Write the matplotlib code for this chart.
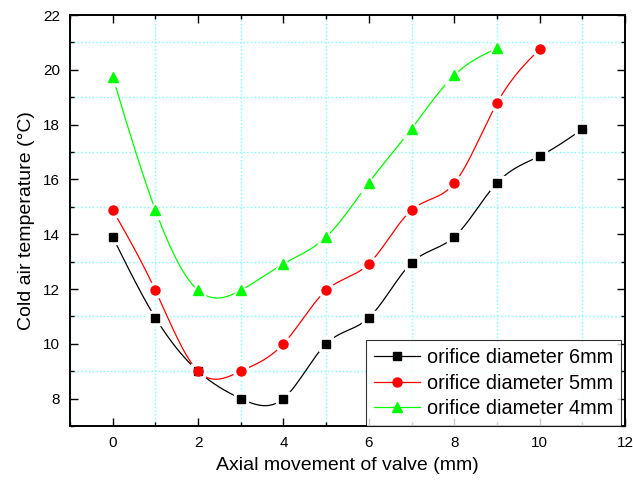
import numpy as np
import matplotlib
matplotlib.use("Agg")
import matplotlib.pyplot as plt
from matplotlib.ticker import MultipleLocator

plt.rcParams['font.family'] = ['Liberation Sans', 'DejaVu Sans']

x6 = [0, 1, 2, 3, 4, 5, 6, 7, 8, 9, 10, 11]
y6 = [13.9, 10.95, 9.0, 8.0, 8.0, 10.0, 10.95, 12.95, 13.9, 15.87, 16.85, 17.83]
x5 = [0, 1, 2, 3, 4, 5, 6, 7, 8, 9, 10]
y5 = [14.88, 11.95, 9.0, 9.0, 10.0, 11.95, 12.92, 14.88, 15.86, 18.78, 20.75]
x4 = [0, 1, 2, 3, 4, 5, 6, 7, 8, 9]
y4 = [19.75, 14.88, 11.95, 11.95, 12.92, 13.9, 15.88, 17.85, 19.8, 20.78]

labels = ['orifice diameter 6mm', 'orifice diameter 5mm', 'orifice diameter 4mm']
colors = ['black', 'red', '#00ff00']
markers = ['s', 'o', '^']
msizes = [5.5, 6.5, 7.5]


def natural_spline(x, y, n=400):
    x = np.asarray(x, float)
    y = np.asarray(y, float)
    k = len(x)
    h = np.diff(x)
    A = np.zeros((k, k))
    b = np.zeros(k)
    A[0, 0] = 1
    A[-1, -1] = 1
    for i in range(1, k - 1):
        A[i, i - 1] = h[i - 1]
        A[i, i] = 2 * (h[i - 1] + h[i])
        A[i, i + 1] = h[i]
        b[i] = 3 * ((y[i + 1] - y[i]) / h[i] - (y[i] - y[i - 1]) / h[i - 1])
    c = np.linalg.solve(A, b)
    xs = np.linspace(x[0], x[-1], n)
    idx = np.clip(np.searchsorted(x, xs) - 1, 0, k - 2)
    dx = xs - x[idx]
    bb = (y[idx + 1] - y[idx]) / h[idx] - h[idx] * (2 * c[idx] + c[idx + 1]) / 3
    d = (c[idx + 1] - c[idx]) / (3 * h[idx])
    ys = y[idx] + bb * dx + c[idx] * dx ** 2 + d * dx ** 3
    return xs, ys


fig = plt.figure(figsize=(6.33, 4.83), dpi=100)
ax = fig.add_axes([70 / 633, 57 / 483, 555 / 633, 411 / 483])

handles = []
for xv, yv, lab, col, mk, ms in zip([x6, x5, x4], [y6, y5, y4], labels, colors, markers, msizes):
    xs, ys = natural_spline(xv, yv)
    ax.plot(xs, ys, color=col, lw=0.9, zorder=2)
    ax.plot(xv, yv, linestyle='none', marker=mk, ms=ms + 5, color='white',
            markeredgecolor='white', zorder=3)
    ax.plot(xv, yv, linestyle='none', marker=mk, ms=ms, color=col,
            markeredgecolor=col, zorder=4)
    h, = ax.plot([], [], color=col, lw=0.9, marker=mk, ms=ms, markeredgecolor=col)
    handles.append(h)

ax.set_xlim(-1, 12)
ax.set_ylim(7, 22)
ax.xaxis.set_major_locator(MultipleLocator(2))
ax.xaxis.set_minor_locator(MultipleLocator(1))
ax.yaxis.set_major_locator(MultipleLocator(2))
ax.yaxis.set_minor_locator(MultipleLocator(1))
ax.grid(which='minor', color='#80ffff', linestyle=':', linewidth=1.0)
ax.grid(which='major', visible=False)
ax.set_axisbelow(True)

ax.tick_params(which='both', direction='in', top=True, right=True, labelsize=11, width=1.0)
ax.tick_params(which='major', length=6, pad=7)
ax.tick_params(which='minor', length=3)
for s in ax.spines.values():
    s.set_linewidth(1.4)

ax.set_xlabel('Axial movement of valve (mm)', fontsize=14, labelpad=5)
ax.set_ylabel('Cold air temperature (°C)', fontsize=14, labelpad=6)

leg = ax.legend(handles, labels, loc='lower right', bbox_to_anchor=(1 - 4 / 555, 0),
                borderaxespad=0, fontsize=14.3, frameon=True, fancybox=False,
                edgecolor='black', handlelength=2.3, handletextpad=0.35,
                labelspacing=0.32, borderpad=0.4)
leg.get_frame().set_linewidth(0.8)

fig.savefig('out.png', dpi=100)
